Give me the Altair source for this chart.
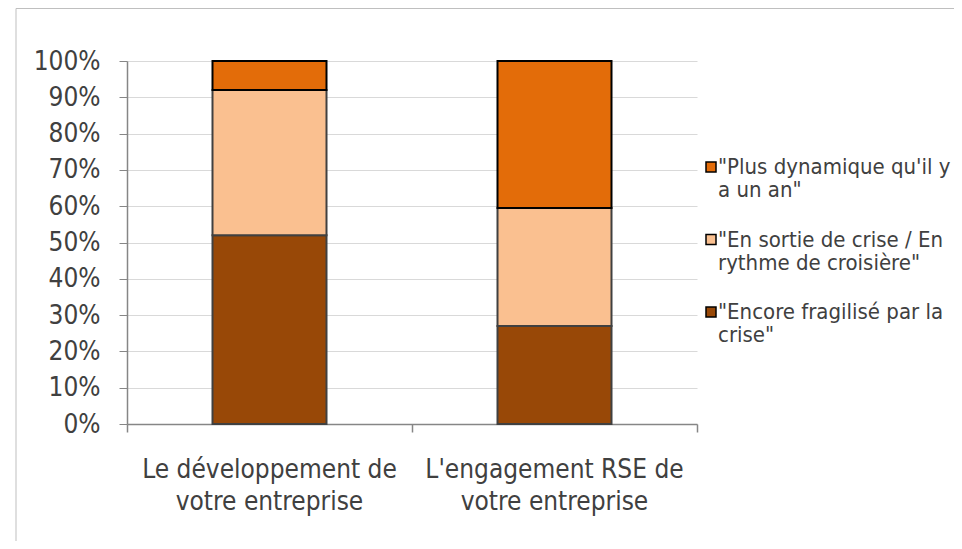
import json
import altair as alt
import pandas as pd

# ---- data ----
categories = ["Le développement de votre entreprise", "L'engagement RSE de votre entreprise"]
category_lines = [["Le développement de", "votre entreprise"], ["L'engagement RSE de", "votre entreprise"]]
series = ['"Encore fragilisé par la crise"', '"En sortie de crise / En rythme de croisière"', '"Plus dynamique qu\'il y a un an"']
series_lines = [['"Encore fragilisé par la', 'crise"'], ['"En sortie de crise / En', 'rythme de croisière"'], ['"Plus dynamique qu\'il y', 'a un an"']]
values_encore = [52, 27]
values_sortie = [40, 32.5]
values_plus = [8, 40.5]
colors = ["#984807", "#FAC090", "#E36C09"]

FONT = "DejaVu Sans Condensed, DejaVu Sans"
TXT = "#404040"
AX = "#868686"

rows = []
for ci, c in enumerate(categories):
    for si, (s, vals) in enumerate(zip(series, [values_encore, values_sortie, values_plus])):
        rows.append({"category": c, "series": s, "value": vals[ci], "order": si})
df = pd.DataFrame(rows)

label_expr = " : ".join(
    f"datum.label == {json.dumps(c)} ? {json.dumps(l)}" for c, l in zip(categories, category_lines)
) + " : ''"

color_scale = alt.Scale(domain=series, range=colors)

bars = alt.Chart(df).mark_bar(strokeWidth=2, size=114).encode(
    x=alt.X("category:N", sort=categories, title=None,
            scale=alt.Scale(paddingInner=0, paddingOuter=0),
            axis=alt.Axis(labelAngle=0, labelExpr=label_expr, labelFont=FONT, labelFontSize=26,
                          labelColor=TXT, labelLineHeight=32, labelBaseline="top", labelPadding=32,
                          ticks=False, domainColor=AX, domainWidth=1.5, grid=False, labelLimit=400)),
    y=alt.Y("value:Q", stack="zero", title=None,
            scale=alt.Scale(domain=[0, 100], nice=False),
            axis=alt.Axis(values=list(range(0, 101, 10)), labelExpr="datum.value + '%'",
                          labelFont=FONT, labelFontSize=26, labelColor=TXT, labelPadding=19,
                          tickSize=8, tickColor=AX, domainColor=AX, domainWidth=1.5,
                          gridColor="#d9d9d9", gridWidth=1)),
    color=alt.Color("series:N", scale=color_scale, legend=None),
    order=alt.Order("order:Q"),
    stroke=alt.condition(alt.datum.order == 2, alt.value("#000000"), alt.value("#404040")),
)

# category boundary ticks on the x axis
boundaries = list(range(len(categories) + 1))
tick_layer = alt.Chart(pd.DataFrame({"pos": boundaries})).mark_point(opacity=0).encode(
    x=alt.X("pos:Q", scale=alt.Scale(domain=[0, len(categories)], nice=False),
            axis=alt.Axis(values=boundaries, labels=False, domain=False, grid=False, tickSize=8,
                          tickColor=AX, tickWidth=1.5, orient="bottom", title=None)),
)

leg_df = pd.DataFrame({"series": series, "lines": series_lines})
legend_order = list(reversed(series))
leg_y = alt.Y("series:N", scale=alt.Scale(domain=legend_order, range=[106, 251], padding=0), axis=None)

leg_sq = alt.Chart(leg_df).mark_square(size=100, stroke="#000000", strokeWidth=1.5, opacity=1).encode(
    x=alt.value(584), y=leg_y,
    color=alt.Color("series:N", scale=color_scale, legend=None),
)
leg_tx = alt.Chart(leg_df).mark_text(align="left", baseline="middle", font=FONT, fontSize=22,
                                     lineHeight=23, color=TXT).encode(
    x=alt.value(591), y=leg_y, text="lines",
)

frame = alt.Chart(pd.DataFrame({"a": [0]})).mark_rect(filled=False, stroke="#bfbfbf", strokeWidth=1).encode(
    x=alt.value(-111), x2=alt.value(1000), y=alt.value(-52.5), y2=alt.value(700)
)

chart = alt.layer(frame, bars, tick_layer, leg_sq, leg_tx).resolve_scale(
    x="independent", y="independent"
).properties(
    width=570, height=363,
    autosize=alt.AutoSizeParams(type="none"),
    padding={"left": 119, "top": 53, "right": 257, "bottom": 117},
).configure_view(stroke=None)

chart.save("out.html", embed_options={"renderer": "svg", "actions": False})
